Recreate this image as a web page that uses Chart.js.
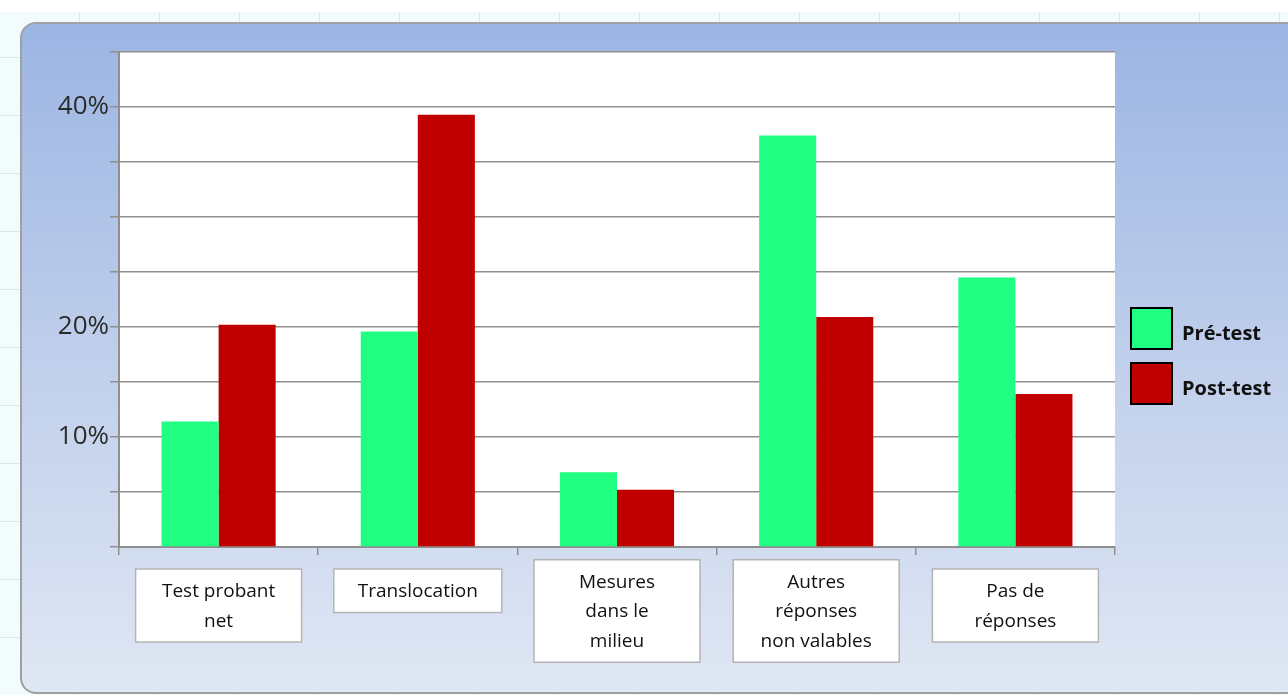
<!DOCTYPE html>
<html>
<head>
<meta charset="utf-8">
<script src="https://cdn.jsdelivr.net/npm/chart.js@4.4.1/dist/chart.umd.min.js"></script>
<style>
  html, body { margin: 0; padding: 0; width: 1288px; height: 695px; overflow: hidden; background: #fff; }
  #sheet {
    position: absolute; left: 0; top: 12px; width: 1288px; height: 683px;
    background-color: #f3fcfc;
    background-image:
      repeating-linear-gradient(90deg, transparent 0 79px, #d9e6ea 79px 80px),
      repeating-linear-gradient(0deg, transparent 0 57px, #d9e6ea 57px 58px);
  }
  #panel {
    position: absolute; left: 20px; top: 22px; width: 1290px; height: 668px;
    border: 2px solid #a0a0a0; border-radius: 16px;
    background: linear-gradient(#9bb5e3, #c3d1ec 55%, #e0e7f4);
  }
  #chart { position: absolute; left: 0; top: 0; }
</style>
</head>
<body>
<div id="sheet"></div>
<div id="panel"></div>
<canvas id="chart" width="1288" height="695"></canvas>
<script>
// ---- data ----
const categories   = [['Test probant', 'net'], ['Translocation'], ['Mesures', 'dans le', 'milieu'], ['Autres', 'réponses', 'non valables'], ['Pas de', 'réponses']];
const preTest      = [11.4, 19.6, 6.8, 37.4, 24.5];
const postTest     = [20.2, 39.3, 5.2, 20.9, 13.9];
const seriesNames  = ['Pré-test', 'Post-test'];
const seriesColors = ['#21ff82', '#c00000'];
const yLabelTicks  = [10, 20, 40];

const FONT = '"Open Sans", "Noto Sans", sans-serif';
const GRID = '#8f8f8f';

// white plot area on top of the blue panel
const plotBg = {
  id: 'plotBg',
  beforeDraw(chart) {
    const { ctx, chartArea: a } = chart;
    ctx.save();
    ctx.fillStyle = '#fff';
    ctx.fillRect(a.left, a.top, a.right - a.left, a.bottom - a.top);
    ctx.restore();
  }
};

// category labels sitting in white boxes under the axis
const labelBoxes = {
  id: 'labelBoxes',
  afterDraw(chart) {
    const { ctx } = chart;
    const xs  = chart.scales.x;
    const lh  = 29.5;
    const mid = xs.top + 64;
    ctx.save();
    ctx.font = `19px ${FONT}`;
    ctx.textAlign = 'center';
    ctx.textBaseline = 'middle';
    categories.forEach((lines, i) => {
      const cx = xs.getPixelForTick(i);
      const tw = Math.max(...lines.map(l => ctx.measureText(l).width));
      const w  = Math.max(166, tw + 48);
      const h  = lines.length * lh + 14;
      const top = Math.min(xs.top + 22, mid - h / 2);
      ctx.fillStyle = '#fff';
      ctx.fillRect(cx - w / 2, top, w, h);
      ctx.strokeStyle = '#b4b4b4';
      ctx.lineWidth = 1.5;
      ctx.strokeRect(cx - w / 2, top, w, h);
      ctx.fillStyle = '#111';
      lines.forEach((l, j) => ctx.fillText(l, cx, top + 8 + lh * (j + 0.5)));
    });
    ctx.restore();
  }
};

// legend on the right: black-edged squares + bold names
const sideLegend = {
  id: 'sideLegend',
  afterDraw(chart) {
    const { ctx, chartArea: a } = chart;
    const x0 = a.right + 16;
    const y0 = a.top + 256;
    ctx.save();
    ctx.font = `bold 20px ${FONT}`;
    ctx.textBaseline = 'middle';
    seriesNames.forEach((name, i) => {
      const y = y0 + i * 55;
      ctx.fillStyle = seriesColors[i];
      ctx.fillRect(x0, y, 41, 41);
      ctx.strokeStyle = '#000';
      ctx.lineWidth = 2;
      ctx.strokeRect(x0, y, 41, 41);
      ctx.fillStyle = '#111';
      ctx.fillText(name, x0 + 51, y + 26);
    });
    ctx.restore();
  }
};

new Chart(document.getElementById('chart'), {
  type: 'bar',
  data: {
    labels: categories,
    datasets: [
      { label: seriesNames[0], data: preTest,  backgroundColor: seriesColors[0], borderWidth: 0 },
      { label: seriesNames[1], data: postTest, backgroundColor: seriesColors[1], borderWidth: 0 },
    ]
  },
  options: {
    responsive: false,
    animation: false,
    devicePixelRatio: 1,
    layout: { padding: { left: 30, top: 52, right: 173, bottom: 0 } },
    datasets: { bar: { categoryPercentage: 0.573, barPercentage: 1 } },
    plugins: { legend: { display: false }, tooltip: { enabled: false } },
    scales: {
      x: {
        grid: { drawOnChartArea: false, offset: true, tickLength: 8, color: GRID, lineWidth: 1.5 },
        border: { color: GRID, width: 2 },
        ticks: { display: false },
        afterFit(s) { s.height = 148; }
      },
      y: {
        min: 0, max: 45,
        ticks: {
          stepSize: 5,
          callback: v => yLabelTicks.includes(v) ? v + '%' : '',
          font: { family: FONT, size: 26 },
          color: '#2b2b2b',
          padding: 1
        },
        grid: { color: GRID, lineWidth: 1.5, tickLength: 9 },
        border: { color: GRID, width: 2 },
        afterFit(s) { s.width = 89; }
      }
    }
  },
  plugins: [plotBg, labelBoxes, sideLegend]
});
</script>
</body>
</html>
